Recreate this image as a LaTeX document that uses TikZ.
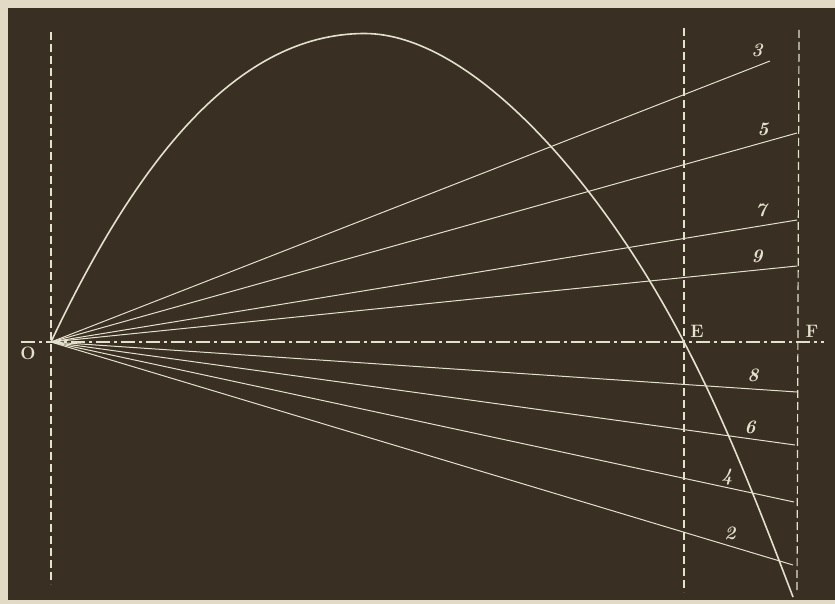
\documentclass[tikz,border=0pt]{standalone}
\definecolor{board}{RGB}{58,47,35}
\definecolor{paper}{RGB}{226,218,196}
\definecolor{chalk}{RGB}{228,224,206}
\tikzset{
  guide/.style={chalk, line width=1.2pt, dash pattern=on 8pt off 4pt},
  axisline/.style={chalk, line width=1.4pt, dash pattern=on 14pt off 4pt on 3pt off 4pt},
  ray/.style={chalk, line width=1pt},
  curveline/.style={chalk, line width=1.6pt},
  numlab/.style={text=chalk, font=\fontsize{19}{19}\selectfont\itshape\bfseries, inner sep=0pt},
  letlab/.style={text=chalk, font=\fontsize{18}{18}\selectfont\bfseries, inner sep=0pt}
}
\begin{document}
\begin{tikzpicture}[x=1pt,y=-1pt]
\useasboundingbox (0,0) rectangle (835,604);
\fill[paper] (0,0) rectangle (835,604);
\fill[board] (8,8) rectangle (835,600);
% guides
\coordinate (O) at (51,342);
\coordinate (Otop) at (51,32);
\coordinate (Obot) at (51,584);
\coordinate (Etop) at (684,28);
\coordinate (Ebot) at (684,592);
\coordinate (Ftop) at (799,30);
\coordinate (Fbot) at (797,592);
\coordinate (Aleft) at (21,342);
\coordinate (Aright) at (824,342);
\draw[guide] (Otop) -- (Obot);
\draw[guide] (Etop) -- (Ebot);
\draw[guide] (Ftop) -- (Fbot);
\draw[axisline] (Aleft) -- (Aright);
% rays
\coordinate (r3) at (770,61);
\coordinate (r5) at (797,133);
\coordinate (r7) at (797,220);
\coordinate (r9) at (797,266);
\coordinate (r8) at (797,392);
\coordinate (r6) at (795,445);
\coordinate (r4) at (794,502);
\coordinate (r2) at (793,565);
\foreach \r in {r3,r5,r7,r9,r8,r6,r4,r2} \draw[ray] (O) -- (\r);
% trajectory
\coordinate (c0) at (51,342);
\coordinate (c1) at (364,33.5);
\coordinate (c2) at (684,342);
\coordinate (c3) at (793,597);
\draw[curveline] (c0) .. controls (136,162) and (236,34) .. (c1)
  .. controls (470,33) and (600,180) .. (c2)
  .. controls (725,420) and (760,510) .. (c3);
% labels
\node[numlab] (l3) at (757,50) {3};
\node[numlab] (l5) at (763,129) {5};
\node[numlab] (l7) at (761,210) {7};
\node[numlab] (l9) at (757,256) {9};
\node[numlab] (l8) at (753,375) {8};
\node[numlab] (l6) at (750,427) {6};
\node[numlab] (l4) at (727,477) {4};
\node[numlab] (l2) at (730,533) {2};
\node[letlab] (lE) at (697,331) {E};
\node[letlab] (lF) at (812,331) {F};
\node[letlab] (lO) at (28,353) {O};
\end{tikzpicture}
\end{document}
